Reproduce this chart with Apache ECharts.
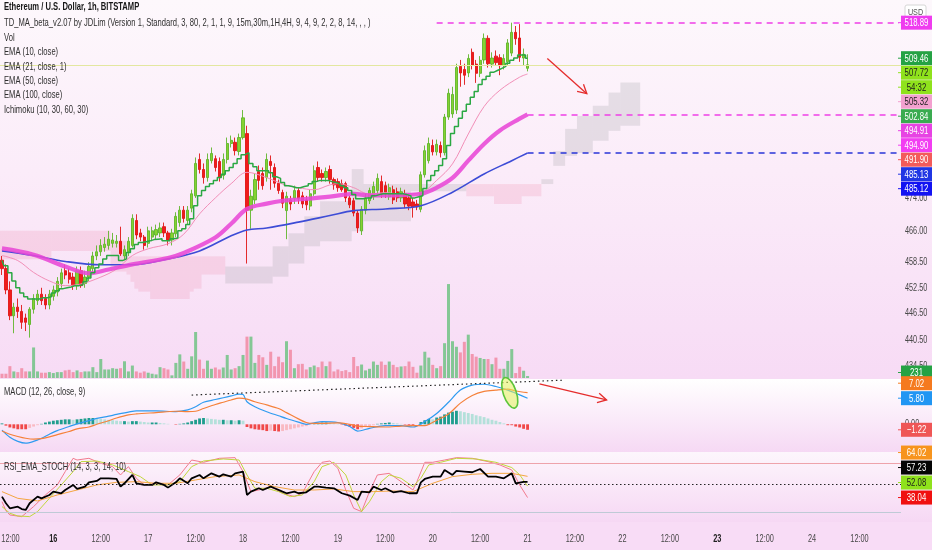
<!DOCTYPE html>
<html><head><meta charset="utf-8">
<script src="https://cdn.jsdelivr.net/npm/echarts@6/dist/echarts.min.js"></script>
<style>html,body{margin:0;padding:0;background:#f8dcf6;}#c{width:932px;height:550px;}</style>
</head><body><div id="c"></div>
<script>
// ---------------- DATA ----------------
const startDay = 15, startHour = 11, hourCount = 228;   // hourly categories (15th 11:00 ...)
const boldDays = [16, 23];
const mainTicks = [434.5, 440.5, 446.5, 452.5, 458.5, 466, 474];
const macdTicks = [0];

const opens = [459,457,452,446,448,447,445.5,444,447.5,449.5, 451,450,448.5,450.5,451.5,453.5,456.5,456,455,453, 456.5,453.5,455,457,460,461,462,462.5,463,463, 463.5,460,461,462.5,468.5,465.5,464.5,463,464.5,465, 465.5,467,465.5,463.8,465.3,468,471,468.5,471.5,474.5, 483.5,481,479,483.2,483.7,483,479.5,483.5,487.5,487.8, 485.5,489,490,471,473.5,480.5,480,479,483,481.5, 477.6,475.3,470.9,473.5,473.9,475.8,474.5,473.5,472,475, 481.5,480,479,481,478.5,478,477.5,477.5,474,473.3, 470.3,466,471,473.3,474.3,475.8,478,477,474.3,476, 475.5,474,475,474,473,472.5,471.2,479.7,483.2,487, 485.4,487,485.2,494.2,495,496,507.3,506.5,505.6,511, 507.9,505.5,509,514.7,507.9,510,509.6,507.5,508.5,510.8, 516.3,514.8,509.5,506.8];
const closes = [457,452,446,448,447,444.5,444.5,447.5,450,451, 449.5,448.5,451,452,454,456,455.5,454.5,453,456.5, 453,455,457.5,460,461,462.5,462.8,464,463.8,463.5, 460.5,461.5,463.5,469,465,464.5,462.5,466,466,466.3, 466.7,465.5,463.8,465.5,469.5,471,469,471,475,482.5, 481,479,483.5,485,481.5,479,483.5,487.5,488.3,485.7, 489,494,471,474.4,478.5,478.3,477,483.5,482,477.6, 475.8,472.7,474.4,472.5,475.8,473.8,472.5,472.3,475,480.7, 479,479,480.5,478.5,477.2,476.5,476,474,472.3,470.3, 466.7,471.2,474,475.8,476.8,478.8,475,475,476.5,473.5, 474,475.5,472.5,472,471.8,471.8,479.7,485.7,487.5,485.4, 487.3,485.2,494.2,500.3,500,507,505.6,505,509.4,507.6, 505.5,508.9,514.7,508,509.5,508.3,507.5,509.4,513.5,516.3, 514.6,509.7,510.5,507.72];
const highs = [460,458,454,449,450,448.5,446.5,448,451,452, 452.5,451,452,453,455,457,458,457,456,457.5, 457.5,456.5,458.5,461,462.5,464,464.5,466,465.5,465, 467,462.5,464.5,470,470,466.5,465,467,467,467.5, 468,468,466,466.5,470.5,472,472,472,476,484, 485,482.5,485,486.5,484.5,484,485,489,489.5,489, 490,496,492,476,480,482,481.5,485,484.5,482.5, 478.5,476,475.5,474.5,477,476.5,475.5,474.5,476,482, 483,481,481.5,482,479,478.8,478.5,478,474.5,474, 471,472,475,476.5,478,480,479.5,478,477.5,477, 476.5,476.5,476,475,474,473.5,480.5,487,489,488.5, 488.5,488,495,501.5,502,508,509,508,510.5,512, 509,510,516,515.5,511,511.5,510.5,510.5,514.5,518.89, 518,518.5,512,510.5];
const lows = [455.5,451,445,442,445.5,443,442.5,441,446.5,448.5, 448.5,447.5,447.5,449.5,450.5,452.5,454.5,453.5,452,452, 452.5,452.5,454,456,459,460,461,461.5,462,462, 460,459,460,462,464,463.5,461.5,462,463.5,464, 464.5,464.5,462.5,462.5,464.5,467,468,467.5,470.5,474, 480,477.5,478,482.5,480.5,478,478.5,482.5,486.5,484.5, 484.5,488.5,458.2,466.5,472.5,476,476,478,476,476.5, 475,471.5,464,471,472.5,472.5,471.5,471,471,474.5, 478,478,478,477.5,476,475.5,475.5,473,471.5,469.5, 465.5,465,470,472.5,473.5,475,474,474,473.5,472.5, 473,473,471.5,471,469.2,471,470.5,479,482.5,484.5, 484.5,484,484.5,493.5,494,495,502,502.5,504.5,506.5, 503,504.5,508,507,507,507.5,505,506.5,507.5,510, 513,508.5,507.5,506];
const volumes = [500,500,1390,770,690,1150,770,770,3580,770, 620,620,690,580,690,690,890,960,690,890, 690,770,770,1270,690,2230,1000,1000,1150,1080, 1150,1960,770,1460,770,620,770,620,500,420, 1270,1150,1000,310,1770,2770,1930,1080,2540,5390, 2160,1080,2040,1080,1230,1000,1230,2700,1000,1150, 1390,2700,4850,4850,1770,2700,2430,1540,3080,1390, 2500,1850,4310,3310,1150,1620,1660,1000,1270,1460, 1270,1930,1390,1930,770,1000,810,920,690,2460, 1390,1580,890,1080,1930,1540,1930,1540,1930,1540, 1270,1350,1390,1930,1310,620,1460,3080,2390,1540, 1150,1390,4080,11010,4310,3660,3000,4240,5080,2810, 2500,2350,2230,2230,1620,2390,1080,1080,2000,3390, 580,1310,850,231];
const stepLine = [458.9,457.7,456.0,454.1,452.5,451.3,450.4,449.9,449.9,449.9, 450.2,450.2,450.4,451.3,451.8,452.3,452.5,452.7,453.0,453.0, 453.2,453.9,454.8,456.0,457.2,458.1,459.3,460.1,460.1,460.1, 458.9,459.3,460.8,461.7,462.7,463.2,463.4,463.6,463.9,464.0, 464.1,463.6,463.6,464.1,464.3,466.0,466.5,467.5,468.9,472.1, 474.5,475.8,476.8,477.5,478.3,479.0,479.8,480.7,481.5,482.5, 483.7,484.7,485.2,482.5,481.7,480.7,480.7,480.7,480.2,479.2, 478.8,477.8,477.0,476.8,476.5,476.5,476.8,477.0,477.5,478.0, 478.3,478.3,478.3,478.0,477.8,477.5,477.0,476.5,475.8,474.8, 473.8,473.8,474.0,474.0,474.5,474.8,475.0,475.0,475.0,475.0, 475.0,475.0,474.8,474.5,474.0,474.3,474.5,476.3,478.3,479.5, 480.7,482.0,483.7,487.0,490.0,491.8,493.9,495.7,497.5,499.3, 500.8,502.6,503.9,504.7,505.8,506.3,506.8,507.3,508.1,508.9, 509.5,510.3,510.3,509.46];
const ema21Pts = [[0,460.1],[4,458.9],[8,456.1],[12,454.1],[16,453.0],[20,453.4],[25,455.0],[29,456.9],[33,460.1],[37,461.7],[42,462.9],[46,465.2],[50,470.1],[54,474.0],[58,477.5],[62,480.3],[67,479.0],[71,477.4],[75,476.5],[79,476.0],[83,477.2],[85,477.5],[89,476.5],[93,474.9],[97,475.3],[101,474.9],[106,475.3],[110,478.3],[114,482.4],[118,489.9],[122,496.9],[126,501.1],[131,504.5],[133,505.32]];
const ema50Pts = [[0,461.8],[8,460.3],[16,457.5],[22,455.9],[27,456.8],[33,458.0],[42,459.5],[46,460.7],[54,464.4],[58,467.7],[62,471.3],[67,472.6],[71,473.3],[75,473.6],[83,474.3],[89,475.0],[93,474.6],[101,474.7],[106,475.0],[110,476.5],[114,478.9],[118,483.2],[122,487.4],[126,490.8],[131,493.8],[133,494.91]];
const ema100Pts = [[0,461.2],[8,460.1],[16,458.7],[25,457.9],[33,457.9],[42,459.3],[50,461.2],[58,464.8],[62,466.2],[67,466.7],[75,468.1],[83,469.7],[89,470.9],[97,471.3],[106,472.1],[114,475.4],[122,479.9],[129,483.2],[133,485.13]];
// Ichimoku cloud: [firstBar, lastBar, spanA, spanB]
const cloudSegs = [[0,12,459.2,466.0],[13,27,461.2,466.0],[28,31,456.3,463.6],[32,32,455.6,459.9],[33,33,453.9,459.9],[34,34,452.3,459.9],[35,37,451.6,459.9],[38,47,449.9,459.9],[48,48,451.6,459.9],[49,50,452.3,459.9],[51,56,455.6,459.9],[57,68,457.5,453.5],[69,72,462.3,455.1],[73,76,465.4,458.2],[77,80,469.5,462.3],[81,88,473.2,463.5],[89,91,481.1,465.9],[92,103,477.4,468.3],[104,117,477.4,475.6],[118,124,474.4,477.4],[125,131,472.5,477.4],[132,136,474.4,477.4],[137,139,478.6,477.4],[140,142,485.6,481.9],[143,145,491.2,484.4],[146,149,494.5,485.1],[150,153,497.1,488.2],[154,156,500.5,490.7],[157,161,503.1,492.0]];
const macdPts = [[0,-1.3],[2,-2.9],[4,-3.8],[6,-4.2],[8,-3.8],[10,-3.1],[12,-2.2],[14,-1.4],[17,-0.5],[19,0.1],[22,0.8],[24,1.3],[27,1.8],[29,2.2],[32,2.7],[34,3.0],[39,3.0],[44,2.8],[47,3.2],[49,3.9],[51,4.9],[54,5.5],[56,5.9],[58,6.3],[60,6.7],[61,6.6],[62,5.0],[64,3.9],[67,2.8],[70,1.9],[72,1.3],[75,0.5],[77,0.0],[79,0.3],[81,0.6],[85,0.4],[88,-0.5],[90,-1.5],[93,-0.9],[97,-0.3],[101,-0.3],[104,-0.6],[107,0.6],[110,2.4],[113,4.9],[116,7.6],[119,8.7],[122,8.9],[125,8.4],[128,7.6],[130,6.9],[133,5.8]];
const signalPts = [[0,-1.5],[2,-2.2],[4,-2.7],[6,-3.1],[8,-3.3],[10,-3.2],[12,-2.8],[14,-2.3],[17,-1.6],[19,-1.0],[22,-0.6],[24,0.0],[27,0.8],[29,1.4],[32,2.1],[34,2.3],[39,2.6],[44,2.9],[47,2.8],[49,2.9],[51,3.5],[54,4.4],[56,4.9],[58,5.4],[60,5.8],[62,5.6],[64,5.0],[67,4.3],[70,3.5],[72,2.6],[75,1.2],[77,0.4],[79,0.2],[81,0.2],[85,0.3],[88,0.0],[90,-0.4],[93,-0.5],[97,-0.6],[101,-0.4],[104,-0.3],[107,-0.3],[110,0.9],[113,2.3],[116,4.7],[119,6.4],[122,7.3],[125,7.6],[128,7.8],[130,7.4],[133,7.02]];
const macdHist = [0.2,-0.3,-0.7,-0.9,-1.1,-1.1,-1.1,-0.8,-0.5,-0.2, 0.1,0.4,0.6,0.8,0.9,1.0,1.1,1.1,1.0,1.1, 1.2,1.3,1.4,1.4,1.3,1.2,1.1,1.0,0.9,0.8, 0.7,0.7,0.6,0.7,0.7,0.6,0.5,0.4,0.4,0.4, 0.3,0.2,0.1,0.0,-0.1,0.1,0.2,0.4,0.7,1.0, 1.3,1.4,1.3,1.2,1.1,1.0,1.0,0.9,0.9,0.8, 0.9,0.8,-0.6,-0.9,-1.1,-1.2,-1.3,-1.5,-1.4,-1.5, -1.6,-1.5,-1.3,-1.1,-0.9,-0.7,-0.5,-0.4,-0.1,0.1, 0.3,0.4,0.4,0.3,0.2,0.1,-0.1,-0.3,-0.5,-0.8, -1.1,-0.9,-0.6,-0.4,-0.2,0.1,0.2,0.3,0.4,0.3, 0.2,0.1,-0.1,-0.2,-0.3,0.0,0.5,0.9,1.2,1.1, 1.5,1.7,2.2,2.6,2.8,3.0,2.9,2.7,2.5,2.3, 2.0,1.8,1.6,1.3,1.0,0.8,0.5,0.2,-0.2,-0.2, -0.5,-0.7,-1.0,-1.22];
const rsiPts = [[0,39.2],[1,31],[2,24.9],[4,26.9],[5,24],[6,22.9],[7,31],[9,39.2],[10,37.1],[12,41.2],[13,45.3],[15,43.3],[16,47.3],[18,53.5],[19,48.6],[21,51.4],[22,56.7],[24,58.4],[25,61.6],[27,61.6],[29,60.8],[30,51.4],[31,55.5],[33,65.7],[34,55.5],[36,53.5],[38,53.5],[39,56.7],[41,53.5],[42,50.2],[44,56.7],[45,61.6],[47,55.5],[48,61.6],[50,65.7],[51,61.6],[53,67.7],[55,63.7],[56,66.5],[58,63.7],[59,67.7],[61,69.8],[62,41.2],[63,45.3],[65,49.4],[66,47.3],[68,51.4],[69,49.4],[71,45.3],[72,43.3],[74,45.3],[75,43.3],[77,44.5],[79,51.4],[80,51.4],[82,50.2],[84,49.4],[86,43.3],[88,40.4],[90,35.1],[91,45.3],[93,44.5],[94,51.4],[96,47.3],[97,49.4],[99,44.5],[101,46],[103,43.3],[105,43.3],[106,56.7],[107,60.8],[109,63.7],[111,63.7],[112,71.8],[114,65.7],[115,70.6],[117,69.8],[119,69],[121,73],[123,63.7],[125,63.7],[127,61.6],[129,67.7],[130,55.5],[132,57.2],[133,57.23]];
const stochKPts = [[0,33],[1,22],[2,16.7],[5,14.7],[8,27],[11,41.2],[14,53.5],[16,69.8],[18,86.1],[19,84],[22,86.1],[25,80],[28,75.9],[30,65.7],[32,75.9],[34,61.6],[36,53.5],[39,55.5],[42,53.5],[45,65.7],[48,84],[51,81.2],[55,86.1],[59,86.9],[61,69.8],[63,45.3],[65,47.3],[68,51.4],[71,43.3],[74,39.2],[76,43.3],[79,69.8],[81,81.2],[83,82.8],[85,73.9],[87,47.3],[89,24.9],[91,20.8],[93,45.3],[95,65.7],[98,67.7],[101,57.5],[104,47.3],[105,57.5],[107,81.2],[109,81.2],[112,84],[115,86.9],[119,86.1],[123,82],[126,78],[129,71.8],[131,53.5],[133,38.04]];
const stochDPts = [[0,27],[2,18.8],[4,15.5],[7,14.7],[9,20.8],[12,37.1],[15,53.5],[18,69.8],[20,82],[24,82.8],[28,78],[32,69.8],[35,63.7],[38,53.5],[42,53.5],[45,57.5],[48,75.9],[51,82.8],[56,85.3],[60,84],[62,65.7],[64,49.4],[67,49.4],[70,45.3],[73,39.2],[76,41.2],[79,57.5],[81,75.9],[84,81.2],[87,65.7],[89,41.2],[91,20.8],[93,33],[96,57.5],[98,65.7],[101,61.6],[104,51.4],[106,61.6],[108,78],[111,81.2],[115,86.1],[120,85.3],[125,81.2],[129,74.8],[131,66],[133,52.08]];
const rsiEmaPts = [[0,45.3],[4,37.1],[9,33.9],[14,41.2],[19,47.3],[24,53.5],[29,56.7],[34,57.5],[39,55.5],[44,55.5],[49,59.6],[54,63.7],[60,65.7],[64,57.5],[69,51.4],[74,47.3],[79,47.3],[84,48.6],[89,45.3],[94,45.3],[99,46.1],[104,45.3],[109,55.5],[114,63.7],[119,66.5],[124,67.7],[129,67.7],[133,64.02]];
const rsiLevels = [80, 20];
const rsiMid = 54;
// drawings (data coordinates)
const topLevel = [110, 518.89];
const ema50Level = [133, 494.91];
const ema100Level = [133, 485.13];
const lastPrice = 507.72;
const arrowMain = [[138, 509.4], [148, 500.2]];
const arrowMacd = [[136, 9.0], [153, 5.4]];
const dottedMacd = [[48, 6.5], [142, 9.8]];
const ellipseMacd = [129, 7.0];
// price-scale tags
const mainTagValues = [518.89, 509.46, 507.72, 505.32, 502.84, 494.91, 494.90, 491.90, 485.13, 485.12];
const countdownText = '54:32';
const macdTagValues = [7.02, 5.80, -1.22];
const rsiTagValues = [64.02, 57.23, 52.08, 38.04];
const headerLines = ['Ethereum / U.S. Dollar, 1h, BITSTAMP','TD_MA_beta_v2.07 by JDLim (Version 1, Standard, 3, 80, 2, 1, 1, 9, 15m,30m,1H,4H, 9, 4, 9, 2, 2, 8, 14, , , )','Vol','EMA (10, close)','EMA (21, close, 1)','EMA (50, close)','EMA (100, close)','Ichimoku (10, 30, 60, 30)'];
const macdTitle = 'MACD (12, 26, close, 9)';
const rsiTitle = 'RSI_EMA_STOCH (14, 3, 3, 14, 10)';
const currency = 'USD';

// ---------------- CHART ----------------
const FONT = "'Liberation Sans',Arial,sans-serif";
const categories = [];
for (let k = 0; k < hourCount; k++) {
  const t = startHour + k;
  const d = startDay + Math.floor(t / 24), h = t % 24;
  categories.push(d + ' ' + (h < 10 ? '0' : '') + h + ':00');
}
const GR = 31;
const grids = [
  {left: 0, right: GR, top: 0, height: 378, outerBoundsMode: 'none'},
  {left: 0, right: GR, top: 0, height: 378, outerBoundsMode: 'none'},
  {left: 0, right: GR, top: 380, height: 71, outerBoundsMode: 'none'},
  {left: 0, right: GR, top: 453, height: 69, outerBoundsMode: 'none'}
];
const xAxes = grids.map((g, gi) => ({
  type: 'category', gridIndex: gi, data: categories, boundaryGap: true,
  axisLine: {show: false}, axisTick: {show: false}, splitLine: {show: false}, axisLabel: {show: false}
}));
const yAxes = [
  {type: 'log', logBase: 10, gridIndex: 0, position: 'right', min: 431.9, max: 525,
   axisLine: {show: false}, axisTick: {show: false}, splitLine: {show: false}, axisLabel: {show: false}},
  {type: 'value', gridIndex: 1, min: 0, max: 44300, show: false},
  {type: 'value', gridIndex: 2, position: 'right', min: -5.93, max: 9.84,
   axisLine: {show: false}, axisTick: {show: false}, splitLine: {show: false}, axisLabel: {show: false}},
  {type: 'value', gridIndex: 3, position: 'right', min: 8.1, max: 92.6,
   axisLine: {show: false}, axisTick: {show: false}, splitLine: {show: false}, axisLabel: {show: false}}
];

const candleData = opens.map((o, i) => [o, closes[i], lows[i], highs[i]]);
const volData = volumes.map((v, i) => ({value: v, itemStyle: {color: closes[i] >= opens[i] ? 'rgba(100,192,122,0.78)' : 'rgba(240,120,146,0.7)'}}));
const histData = macdHist.map((v, i) => {
  const prev = i > 0 ? macdHist[i - 1] : 0;
  let c;
  if (v >= 0) c = v >= prev ? '#1f9e8e' : '#b4e0da';
  else c = v <= prev ? '#f04848' : '#f9b9c2';
  return {value: v, itemStyle: {color: c}};
});
const PINK_CLOUD = 'rgba(240,150,180,0.26)';
const GREY_CLOUD = 'rgba(160,160,165,0.24)';

function lineS(name, data, xi, yi, color, width, extra) {
  return Object.assign({name, type: 'line', xAxisIndex: xi, yAxisIndex: yi, data, symbol: 'none',
    lineStyle: {color, width}, silent: true, animation: false, z: 4}, extra || {});
}

const option = {
  animation: false,
  backgroundColor: 'transparent',
  grid: grids,
  xAxis: xAxes,
  yAxis: yAxes,
  series: [
    {type: 'custom', name: 'cloud', xAxisIndex: 0, yAxisIndex: 0, data: cloudSegs, silent: true, z: 1,
     dimensions: ['s', 'e', 'a', 'b'], encode: {x: [0, 1], y: [2, 3]},
     renderItem: (params, api) => {
       const s = api.value(0), e = api.value(1), a = api.value(2), b = api.value(3);
       const p1 = api.coord([s, Math.max(a, b)]);
       const p2 = api.coord([e, Math.min(a, b)]);
       const bw = api.size([1, 0])[0];
       return {type: 'rect', shape: {x: p1[0] - bw / 2, y: p1[1], width: p2[0] - p1[0] + bw, height: p2[1] - p1[1]},
               style: {fill: a >= b ? GREY_CLOUD : PINK_CLOUD}};
     }},
    {type: 'bar', name: 'vol', xAxisIndex: 1, yAxisIndex: 1, data: volData, barWidth: '76%', silent: true, z: 1},
    {type: 'candlestick', name: 'ETHUSD', xAxisIndex: 0, yAxisIndex: 0, data: candleData, barWidth: '70%', z: 3,
     itemStyle: {color: '#86d232', color0: '#f01c1c', borderColor: '#5fb52a', borderColor0: '#e01414', borderWidth: 0.9},
     markLine: {silent: true, symbol: 'none', label: {show: false},
       data: [
         {yAxis: lastPrice, lineStyle: {color: '#e3e7a0', width: 1, type: 'solid'}},
         [{coord: topLevel}, {coord: [hourCount - 1, topLevel[1]]}],
         [{coord: ema50Level}, {coord: [hourCount - 1, ema50Level[1]]}],
         [{coord: ema100Level}, {coord: [hourCount - 1, ema100Level[1]]}]
       ].map((d, k) => {
         if (k === 0) return d;
         const col = k === 3 ? '#2a36d8' : '#ee3fe6';
         return [Object.assign({lineStyle: {color: col, width: 1.6, type: [6, 5]}}, d[0]), d[1]];
       })}},
    lineS('EMA 21', ema21Pts, 0, 0, '#f28fb8', 1, {smooth: 0.35}),
    lineS('EMA 100', ema100Pts, 0, 0, '#3d4cd6', 1.6, {smooth: 0.35}),
    lineS('EMA 50', ema50Pts, 0, 0, 'rgba(232,72,214,0.88)', 4.2, {smooth: 0.35}),
    lineS('TD step', stepLine, 0, 0, '#2aa843', 1.5, {step: 'middle'}),
    {type: 'bar', name: 'hist', xAxisIndex: 2, yAxisIndex: 2, data: histData, barWidth: '72%', silent: true, z: 2},
    lineS('MACD', macdPts, 2, 2, '#2f9bf0', 1.2, {smooth: 0.3,
      markLine: {silent: true, symbol: 'none', label: {show: false},
        data: [[{coord: dottedMacd[0], lineStyle: {color: '#222', type: [1.5, 3], width: 1.2}}, {coord: dottedMacd[1]}]]}}),
    lineS('Signal', signalPts, 2, 2, '#f5813a', 1.2, {smooth: 0.3}),
    lineS('Stoch K', stochKPts, 3, 3, '#f27a8e', 1, {
      markLine: {silent: true, symbol: 'none', label: {show: false},
        data: [
          {yAxis: rsiLevels[0], lineStyle: {color: '#eea3ab', width: 1, type: 'solid'}},
          {yAxis: rsiLevels[1], lineStyle: {color: '#bfcad6', width: 1, type: 'solid'}},
          {yAxis: rsiMid, lineStyle: {color: '#222', width: 1.2, type: [1.5, 2.5]}}
        ]}}),
    lineS('Stoch D', stochDPts, 3, 3, '#c1d83c', 1),
    lineS('RSI EMA', rsiEmaPts, 3, 3, '#f4a640', 1),
    lineS('RSI', rsiPts, 3, 3, '#000000', 1.8)
  ]
};

const chart = echarts.init(document.getElementById('c'));
chart.setOption(option);

// ---------- graphics: backgrounds, text, tags, drawings ----------
function grad(a, b, c) {
  return new echarts.graphic.LinearGradient(0, 0, 0, 1, c ? [{offset: 0, color: a}, {offset: 0.45, color: b}, {offset: 1, color: c}] : [{offset: 0, color: a}, {offset: 1, color: b}]);
}
const g = [];
g.push({type: 'rect', z: -10, silent: true, shape: {x: 0, y: 0, width: 932, height: 379}, style: {fill: grad('#fdf8fc', '#fbecf9', '#f7dbf5')}});
g.push({type: 'rect', z: -10, silent: true, shape: {x: 0, y: 379, width: 932, height: 73}, style: {fill: grad('#ffffff', '#f6d9f4')}});
g.push({type: 'rect', z: -10, silent: true, shape: {x: 0, y: 452, width: 932, height: 70}, style: {fill: grad('#fdf6fc', '#f6d8f4')}});
g.push({type: 'rect', z: -10, silent: true, shape: {x: 0, y: 522, width: 932, height: 28}, style: {fill: '#f8dcf6'}});

function txt(x, y, text, opts) {
  opts = opts || {};
  g.push({type: 'text', z: opts.z || 60, silent: true, x, y, scaleX: opts.sx || 0.72,
    style: {text, fill: opts.fill || '#2e2e2e', font: (opts.bold ? 'bold ' : '') + (opts.size || 10.5) + 'px ' + FONT,
            align: opts.align || 'left', verticalAlign: 'middle'}});
}
const headerY = [7.5, 23, 37.8, 52.3, 66.8, 81.2, 95.6, 110];
headerLines.forEach((t, k) => txt(4, headerY[k], t, {bold: k === 0, fill: k === 0 ? '#161616' : '#2e2e2e', sx: 0.725}));
txt(4, 392, macdTitle, {sx: 0.725});
txt(4, 467, rsiTitle, {sx: 0.725});
g.push({type: 'rect', z: 60, silent: true, shape: {x: 905, y: 5, width: 21, height: 14, r: 2}, style: {fill: '#fff', stroke: '#d6d6d6', lineWidth: 1}});
txt(915.5, 12.5, currency, {fill: '#555', size: 9, sx: 0.8, align: 'center', z: 61});

// price-scale tick labels
mainTicks.forEach(v => txt(905, chart.convertToPixel({yAxisIndex: 0}, v), v.toFixed(2), {fill: '#474747', z: 55, size: 10, sx: 0.73}));
macdTicks.forEach(v => txt(905, chart.convertToPixel({yAxisIndex: 2}, v), v.toFixed(2), {fill: '#474747', z: 55, size: 10, sx: 0.73}));
// time-scale labels (first one kept inside the left edge)
categories.forEach(c => {
  const [d, hm] = c.split(' ');
  if (hm !== '00:00' && hm !== '12:00') return;
  let x = chart.convertToPixel({xAxisIndex: 3}, c);
  const isDay = hm === '00:00';
  const bold = isDay && boldDays.includes(+d);
  const label = isDay ? d : hm;
  const halfW = label.length * 2.1;
  if (x - halfW < 0) x = halfW;
  txt(x, 539, label, {fill: bold ? '#1e1e1e' : '#474747', bold, align: 'center', size: 10.5, sx: 0.7});
});

const TAG_X = 901, TAG_W = 31, TAG_H = 14;
function addTags(items, dir, gap) {
  if (dir === 'down') { let prev = -1e9; items.forEach(it => { it.y = Math.max(it.y0, prev + gap); prev = it.y; }); }
  else { let next = 1e9; for (let k = items.length - 1; k >= 0; k--) { const it = items[k]; it.y = Math.min(it.y0, next - gap); next = it.y; } }
  items.forEach(it => {
    g.push({type: 'rect', z: it.z || 70, silent: true, shape: {x: TAG_X, y: it.y - TAG_H / 2, width: TAG_W, height: TAG_H}, style: {fill: it.bg}});
    g.push({type: 'rect', z: it.z || 70, silent: true, shape: {x: TAG_X - 3, y: it.y - 0.5, width: 3, height: 1}, style: {fill: it.bg}});
    txt(TAG_X + TAG_W / 2, it.y + 0.5, it.text, {fill: it.fg, align: 'center', z: (it.z || 70) + 1, size: 10.5, sx: 0.74});
  });
}
const mainColors = ['#ef3cef', '#25a244', '#8fe21c', '#f3a0cf', '#3aab50', '#e743e3', '#f23df2', '#f35b5b', '#2036e4', '#1313f2'];
const mainFg = ['#fff', '#fff', '#1d1d1d', '#222', '#fff', '#fff', '#fff', '#fff', '#fff', '#fff'];
const mainItems = [];
mainTagValues.forEach((v, k) => {
  const y0 = chart.convertToPixel({yAxisIndex: 0}, v);
  mainItems.push({y0, text: v.toFixed(2), bg: mainColors[k], fg: mainFg[k]});
  if (v === lastPrice) mainItems.push({y0, text: countdownText, bg: mainColors[k], fg: mainFg[k]});
});
addTags(mainItems, 'down', 14.5);
const volV = volumes[volumes.length - 1];
addTags([{y0: chart.convertToPixel({yAxisIndex: 1}, volV) - 3.5, text: String(volV), bg: '#25a244', fg: '#fff', z: 66}], 'down', 15);
const macdColors = ['#f57a1f', '#2196f3', '#ef5656'];
addTags(macdTagValues.map((v, k) => ({y0: chart.convertToPixel({yAxisIndex: 2}, v), text: (v < 0 ? '\u2212' + (-v).toFixed(2) : v.toFixed(2)), bg: macdColors[k], fg: '#fff'})), 'up', 15);
const rsiColors = ['#f7941d', '#050505', '#8fe21c', '#f01010'];
const rsiFg = ['#fff', '#fff', '#1d1d1d', '#fff'];
addTags(rsiTagValues.map((v, k) => ({y0: chart.convertToPixel({yAxisIndex: 3}, v), text: v.toFixed(2), bg: rsiColors[k], fg: rsiFg[k]})), 'up', 15);

function arrow(pts, xi, yi) {
  const a = chart.convertToPixel({xAxisIndex: xi, yAxisIndex: yi}, pts[0]);
  const b = chart.convertToPixel({xAxisIndex: xi, yAxisIndex: yi}, pts[1]);
  const ang = Math.atan2(b[1] - a[1], b[0] - a[0]);
  const L = 10, sp = 0.5;
  const h1 = [b[0] - L * Math.cos(ang - sp), b[1] - L * Math.sin(ang - sp)];
  const h2 = [b[0] - L * Math.cos(ang + sp), b[1] - L * Math.sin(ang + sp)];
  g.push({type: 'polyline', z: 65, silent: true, shape: {points: [a, b]}, style: {stroke: '#e52d2d', lineWidth: 1.3, fill: null}});
  g.push({type: 'polyline', z: 65, silent: true, shape: {points: [h1, b, h2]}, style: {stroke: '#e52d2d', lineWidth: 1.3, fill: null}});
}
arrow(arrowMain, 0, 0);
arrow(arrowMacd, 2, 2);
const ec = chart.convertToPixel({xAxisIndex: 2, yAxisIndex: 2}, ellipseMacd);
g.push({type: 'ellipse', z: 64, silent: true, x: ec[0] - 2, y: ec[1], rotation: 0.33, shape: {cx: 0, cy: 0, rx: 6.5, ry: 16},
  style: {fill: 'rgba(226,242,90,0.55)', stroke: '#5cc43a', lineWidth: 1.6}});

chart.setOption({graphic: g});
</script></body></html>
